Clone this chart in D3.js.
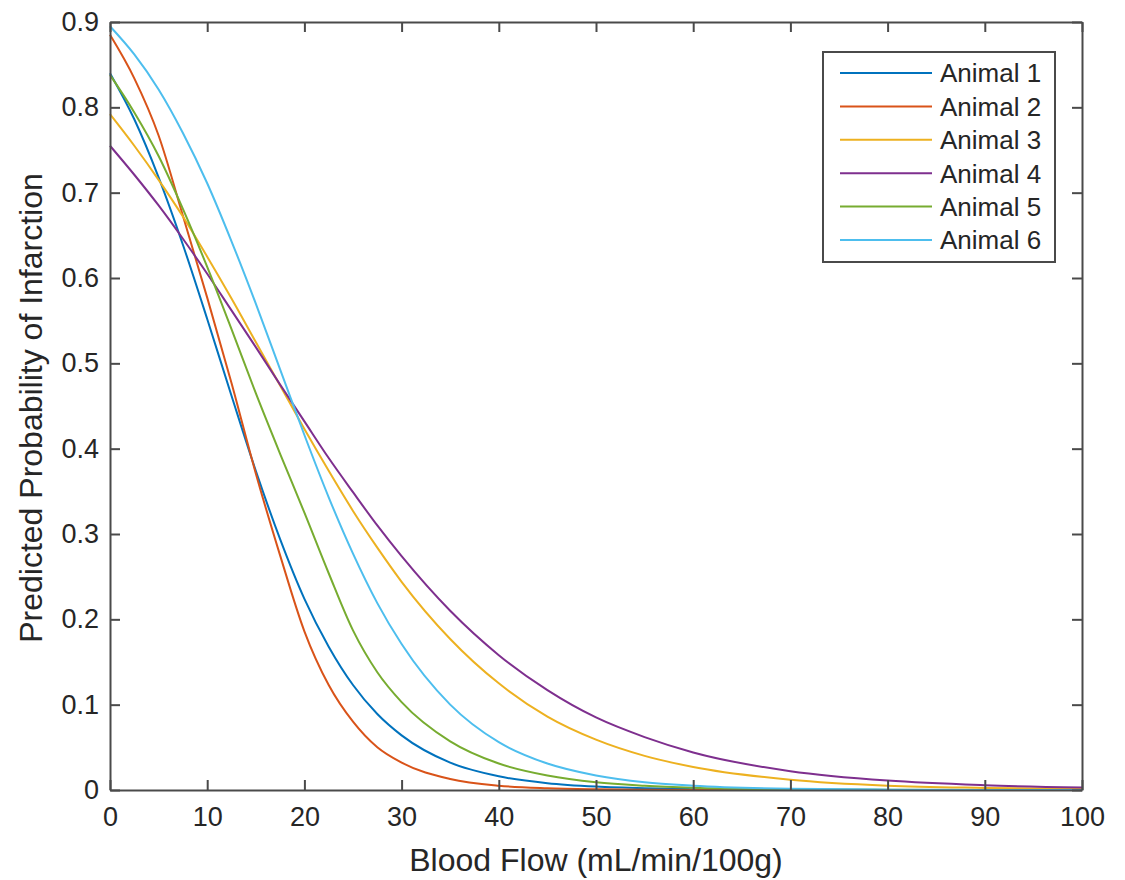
<!DOCTYPE html>
<html>
<head>
<meta charset="utf-8">
<script src="https://cdn.jsdelivr.net/npm/d3@7"></script>
<style>
  html, body { margin: 0; padding: 0; background: #fff; }
  #chart svg { display: block; }
  text { font-family: "Liberation Sans", Arial, Helvetica, sans-serif; fill: #262626; }
</style>
</head>
<body>
<div id="chart"></div>
<script>
// blood flow (mL/min/100g) sample points
const flow = [0, 2.5, 5, 7.5, 10, 12.5, 15, 17.5, 20, 22.5, 25, 27.5, 30, 35, 40, 45, 50, 55, 60, 70, 80, 90, 100];

const animal1 = [0.840, 0.786, 0.718, 0.639, 0.552, 0.462, 0.374, 0.294, 0.224, 0.168, 0.123, 0.089, 0.064, 0.032, 0.016, 0.008, 0.004, 0.002, 0.001, 0.0002, 0.0001, 0, 0];
const animal2 = [0.885, 0.834, 0.767, 0.673, 0.577, 0.477, 0.371, 0.275, 0.186, 0.123, 0.080, 0.050, 0.032, 0.013, 0.005, 0.002, 0.0008, 0.0003, 0.0001, 0, 0, 0, 0];
const animal3 = [0.792, 0.755, 0.715, 0.672, 0.625, 0.576, 0.525, 0.474, 0.423, 0.374, 0.327, 0.284, 0.244, 0.177, 0.125, 0.086, 0.059, 0.040, 0.027, 0.012, 0.005, 0.0024, 0.001];
const animal4 = [0.755, 0.721, 0.685, 0.646, 0.605, 0.562, 0.519, 0.475, 0.432, 0.389, 0.349, 0.310, 0.274, 0.210, 0.158, 0.117, 0.085, 0.062, 0.044, 0.022, 0.011, 0.0056, 0.0028];
const animal5 = [0.838, 0.794, 0.743, 0.681, 0.613, 0.540, 0.465, 0.394, 0.325, 0.254, 0.187, 0.138, 0.103, 0.057, 0.031, 0.017, 0.009, 0.005, 0.0026, 0.0007, 0.0002, 0.0001, 0];
const animal6 = [0.895, 0.862, 0.821, 0.770, 0.711, 0.643, 0.570, 0.493, 0.416, 0.343, 0.277, 0.219, 0.171, 0.100, 0.056, 0.031, 0.017, 0.009, 0.005, 0.0014, 0.0004, 0.0001, 0];

const seriesNames = ["Animal 1", "Animal 2", "Animal 3", "Animal 4", "Animal 5", "Animal 6"];
const seriesValues = [animal1, animal2, animal3, animal4, animal5, animal6];
const COLORS = ["#0072BD", "#D95319", "#EDB120", "#7E2F8E", "#77AC30", "#4DBEEE"];

const xTicks = [0, 10, 20, 30, 40, 50, 60, 70, 80, 90, 100];
const yTicks = [0, 0.1, 0.2, 0.3, 0.4, 0.5, 0.6, 0.7, 0.8, 0.9];

const xLabel = "Blood Flow (mL/min/100g)";
const yLabel = "Predicted Probability of Infarction";

renderChart();

function renderChart() {
  const width = 1125;
  const height = 880;
  const plot = { left: 110, right: 1082, top: 22, bottom: 790 };
  const axisColor = "#4a4a4a";
  const tickLen = 10;

  const svg = d3.select("#chart")
    .append("svg")
    .attr("width", width)
    .attr("height", height);

  const x = d3.scaleLinear().domain([0, 100]).range([plot.left, plot.right]);
  const y = d3.scaleLinear().domain([0, 0.9]).range([plot.bottom, plot.top]);

  const data = seriesNames.map((name, i) => ({
    name,
    color: COLORS[i],
    points: flow.map((f, j) => ({ flow: f, p: seriesValues[i][j] }))
  }));

  const line = d3.line()
    .x(d => x(d.flow))
    .y(d => y(d.p))
    .curve(d3.curveMonotoneX);

  svg.append("g")
    .selectAll("path")
    .data(data)
    .enter()
    .append("path")
    .attr("d", d => line(d.points))
    .attr("fill", "none")
    .attr("stroke", d => d.color)
    .attr("stroke-width", 2);

  // box axes with inward ticks, like matlab
  const styleAxis = g => {
    g.select(".domain").attr("stroke", axisColor).attr("stroke-width", 2);
    g.selectAll(".tick line").attr("stroke", axisColor).attr("stroke-width", 2);
    g.selectAll(".tick text")
      .style("font-family", "'Liberation Sans', Arial, sans-serif")
      .style("font-size", "27px")
      .attr("fill", "#262626");
  };

  svg.append("g")
    .attr("transform", `translate(0,${plot.bottom})`)
    .call(d3.axisBottom(x).tickValues(xTicks).tickSizeInner(-tickLen).tickSizeOuter(0).tickPadding(17).tickFormat(d3.format("d")))
    .call(styleAxis);

  svg.append("g")
    .attr("transform", `translate(0,${plot.top})`)
    .call(d3.axisTop(x).tickValues(xTicks).tickSizeInner(-tickLen).tickSizeOuter(0).tickFormat(""))
    .call(styleAxis);

  svg.append("g")
    .attr("transform", `translate(${plot.left},0)`)
    .call(d3.axisLeft(y).tickValues(yTicks).tickSizeInner(-tickLen).tickSizeOuter(0).tickPadding(11).tickFormat(d => d === 0 ? "0" : d3.format(".1f")(d)))
    .call(styleAxis);

  svg.append("g")
    .attr("transform", `translate(${plot.right},0)`)
    .call(d3.axisRight(y).tickValues(yTicks).tickSizeInner(-tickLen).tickSizeOuter(0).tickFormat(""))
    .call(styleAxis);

  svg.append("text")
    .attr("x", (plot.left + plot.right) / 2)
    .attr("y", 871)
    .attr("text-anchor", "middle")
    .style("font-size", "32px")
    .text(xLabel);

  svg.append("text")
    .attr("transform", `translate(42,408) rotate(-90)`)
    .attr("text-anchor", "middle")
    .style("font-size", "32px")
    .text(yLabel);

  drawLegend(svg, data);
}

function drawLegend(svg, data) {
  const box = { x: 823, y: 52, w: 232, h: 210 };
  const g = svg.append("g");

  g.append("rect")
    .attr("x", box.x)
    .attr("y", box.y)
    .attr("width", box.w)
    .attr("height", box.h)
    .attr("fill", "#fff")
    .attr("stroke", "#4a4a4a")
    .attr("stroke-width", 2);

  const rowY = d3.scalePoint()
    .domain(data.map(d => d.name))
    .range([box.y + 21, box.y + 188]);

  const item = g.selectAll(".legend-item")
    .data(data)
    .enter()
    .append("g")
    .attr("class", "legend-item")
    .attr("transform", d => `translate(0,${rowY(d.name)})`);

  item.append("line")
    .attr("x1", 840)
    .attr("x2", 932)
    .attr("stroke", d => d.color)
    .attr("stroke-width", 2);

  item.append("text")
    .attr("x", 940)
    .attr("dy", "0.36em")
    .style("font-size", "26px")
    .text(d => d.name);
}
</script>
</body>
</html>
